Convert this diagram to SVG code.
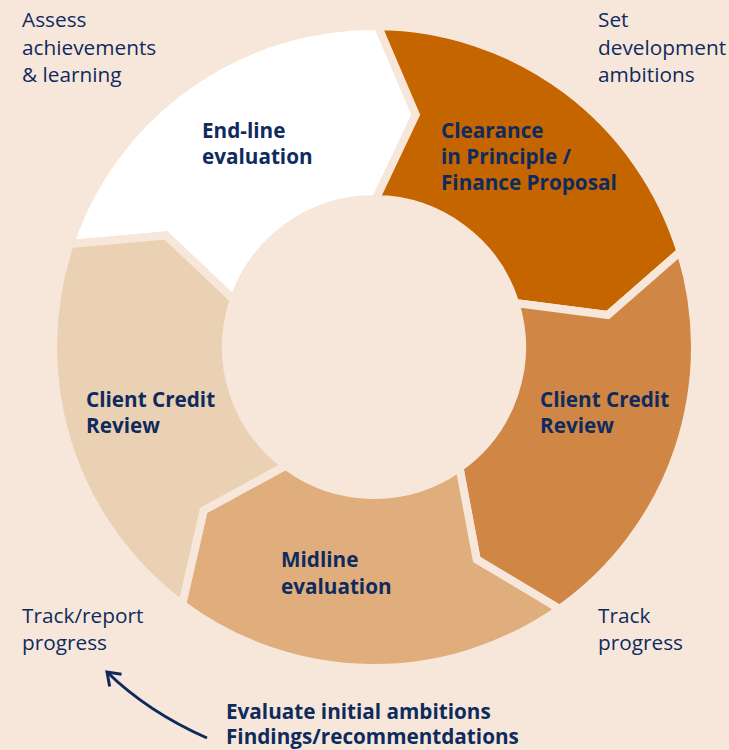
<svg xmlns="http://www.w3.org/2000/svg" width="729" height="750" viewBox="0 0 729 750">
<defs>
<style>
.seg{stroke:#F7E7DA;stroke-width:8;stroke-linejoin:miter;stroke-miterlimit:10}
.lbl{font-family:"Open Sans","Noto Sans","Liberation Sans",sans-serif;font-size:20.7px;font-weight:bold;fill:#0F2B5E}
.note{font-family:"Open Sans","Noto Sans","Liberation Sans",sans-serif;font-size:20.8px;fill:#0F2B5E}
</style>
<marker id="ah" viewBox="0 0 20 20" refX="17" refY="10" markerWidth="20" markerHeight="20" markerUnits="userSpaceOnUse" orient="auto">
<path d="M5 1.5 L17 10 L5 18.5" fill="none" stroke="#0F2B5E" stroke-width="3"/>
</marker>
</defs>
<rect width="729" height="750" fill="#F7E7DA"/>
<g id="end-line">
<path class="seg" fill="#FFFFFF" d="M69.95 244.08 A321 321 0 0 1 377.92 26.02 L415.79 114.73 L375.81 199.01 A148 148 0 0 0 233.81 299.55 L166.01 235.48 Z"/>
<text class="lbl" x="202" y="138">End-line</text>
<text class="lbl" x="202" y="164">evaluation</text>
</g>
<g id="clearance">
<path class="seg" fill="#C46500" d="M377.92 26.02 A321 321 0 0 1 680.48 251.54 L607.82 314.97 L515.30 302.99 A148 148 0 0 0 375.81 199.01 L415.79 114.73 Z"/>
<text class="lbl" x="441" y="138">Clearance</text>
<text class="lbl" x="441" y="164">in Principle /</text>
<text class="lbl" x="441" y="190">Finance Proposal</text>
</g>
<g id="credit-right">
<path class="seg" fill="#D08645" d="M680.48 251.54 A321 321 0 0 1 559.49 608.98 L476.71 559.48 L459.52 467.79 A148 148 0 0 0 515.30 302.99 L607.82 314.97 Z"/>
<text class="lbl" x="540" y="407">Client Credit</text>
<text class="lbl" x="540" y="433">Review</text>
</g>
<g id="midline">
<path class="seg" fill="#E0AE7C" d="M559.49 608.98 A321 321 0 0 1 182.16 604.37 L203.66 510.35 L285.55 465.66 A148 148 0 0 0 459.52 467.79 L476.71 559.48 Z"/>
<text class="lbl" x="281" y="567">Midline</text>
<text class="lbl" x="281" y="594">evaluation</text>
</g>
<g id="credit-left">
<path class="seg" fill="#EBD1B3" d="M182.16 604.37 A321 321 0 0 1 69.95 244.08 L166.01 235.48 L233.81 299.55 A148 148 0 0 0 285.55 465.66 L203.66 510.35 Z"/>
<text class="lbl" x="86" y="407">Client Credit</text>
<text class="lbl" x="86" y="433">Review</text>
</g>
<g id="notes">
<text class="note" x="22" y="27">Assess</text>
<text class="note" x="22" y="55">achievements</text>
<text class="note" x="22" y="82">&amp; learning</text>
<text class="note" x="598" y="27">Set</text>
<text class="note" x="598" y="55">development</text>
<text class="note" x="598" y="82">ambitions</text>
<text class="note" x="22" y="623">Track/report</text>
<text class="note" x="22" y="650">progress</text>
<text class="note" x="598" y="623">Track</text>
<text class="note" x="598" y="650">progress</text>
<text class="lbl" x="226" y="719">Evaluate initial ambitions</text>
<text class="lbl" x="226" y="744">Findings/recommentdations</text>
</g>
<g id="connectors">
<path d="M207 738 Q148 712 107 672" fill="none" stroke="#0F2B5E" stroke-width="3" marker-end="url(#ah)"/>
</g>
</svg>
